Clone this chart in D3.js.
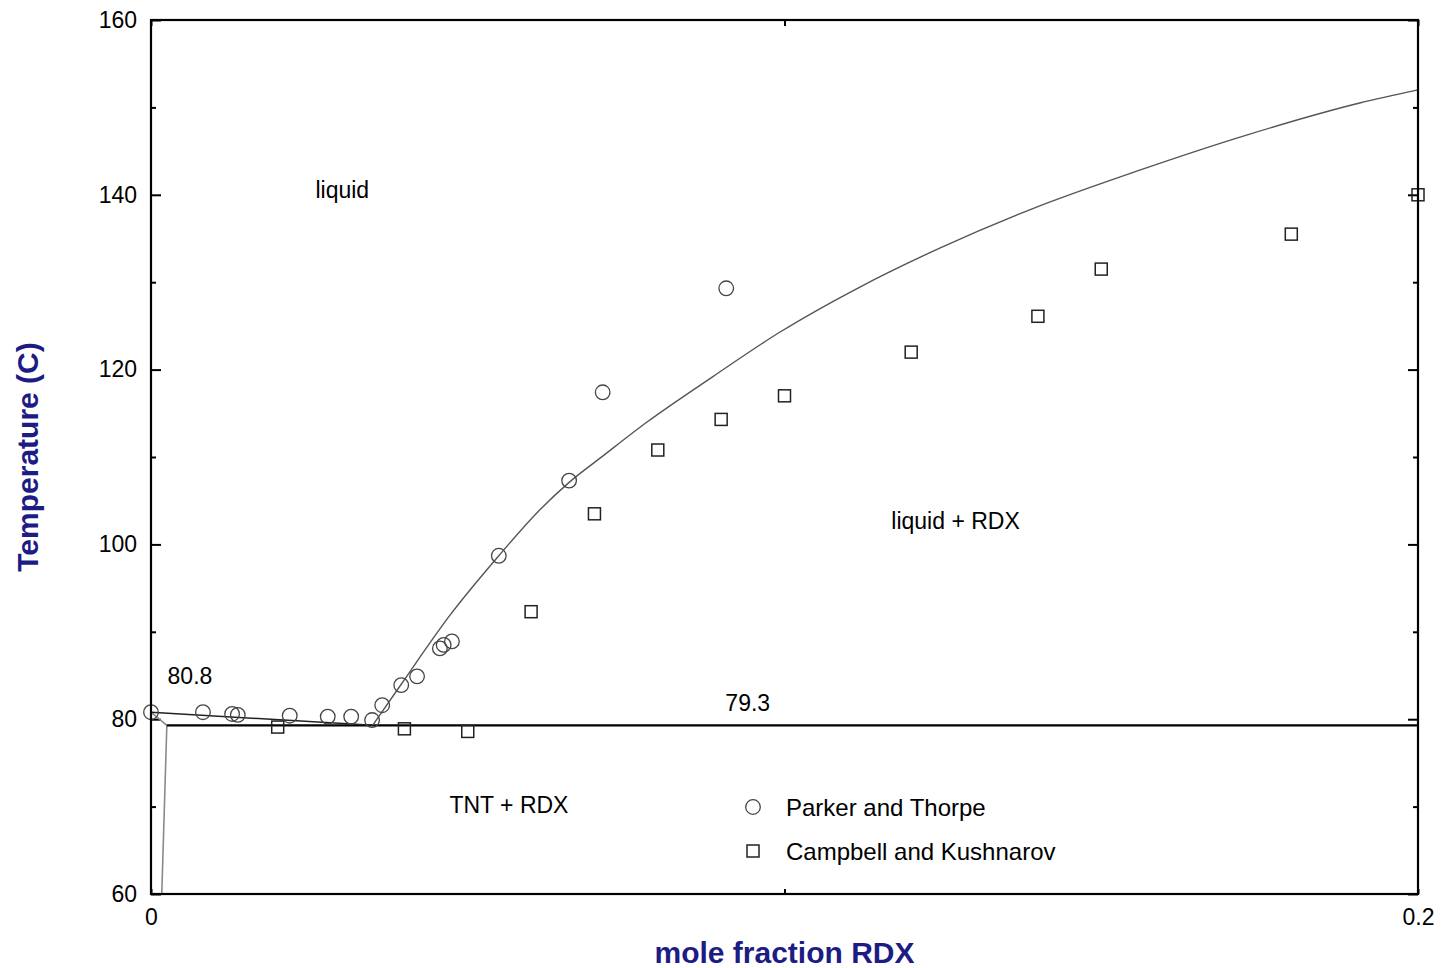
<!DOCTYPE html>
<html>
<head>
<meta charset="utf-8">
<script src="https://cdn.jsdelivr.net/npm/d3@7"></script>
<style>
  html, body { margin: 0; padding: 0; background: #fff; }
  svg { display: block; }
  text { font-family: "Liberation Sans", Arial, sans-serif; }
</style>
</head>
<body>
<svg id="chart" width="1445" height="968"></svg>
<script>
// ---- data ----
const parkerX = [0, 0.0082, 0.0128, 0.0137, 0.0219, 0.0279, 0.0316, 0.0349, 0.0365, 0.0395, 0.042, 0.0456, 0.0462, 0.0475, 0.0549, 0.066, 0.0713, 0.0908];
const parkerT = [80.8, 80.8, 80.6, 80.5, 80.4, 80.3, 80.3, 79.9, 81.6, 83.9, 84.9, 88.1, 88.5, 88.9, 98.7, 107.3, 117.4, 129.3];

const campbellX = [0.02, 0.04, 0.05, 0.06, 0.07, 0.08, 0.09, 0.1, 0.12, 0.14, 0.15, 0.18, 0.2];
const campbellT = [79.1, 78.9, 78.6, 92.3, 103.5, 110.8, 114.3, 117.0, 122.0, 126.1, 131.5, 135.5, 140.0];

const liquidusX = [0.035, 0.0395, 0.0472, 0.0549, 0.0609, 0.066, 0.0713, 0.0783, 0.0887, 0.0993, 0.1119, 0.1245, 0.1391, 0.1556, 0.1728, 0.1908, 0.2];
const liquidusT = [79.3, 84.0, 91.9, 98.7, 103.6, 107.1, 110.1, 114.0, 119.2, 124.3, 129.45, 133.9, 138.4, 142.7, 146.8, 150.5, 152.0];

const tntLiquidusX = [0, 0.035];
const tntLiquidusT = [80.8, 79.3];

const solidusX = [0, 0.0025, 0.0017];
const solidusT = [80.8, 79.3, 60];

const eutecticX = [0.0025, 0.2];
const eutecticT = [79.3, 79.3];

const yMajorTicks = [60, 80, 100, 120, 140, 160];
const yMinorTicks = [70, 90, 110, 130, 150];
const xTicks = [0, 0.1, 0.2];
const xTickLabels = ["0", "", "0.2"];

const seriesNames = ["Parker and Thorpe", "Campbell and Kushnarov"];
const regionLabels = ["liquid", "liquid + RDX", "TNT + RDX", "80.8", "79.3"];

// ---- layout ----
const L = 151, R = 1418, T = 20, B = 894;
const svg = d3.select("#chart");
const x = d3.scaleLinear().domain([0, 0.2]).range([L, R]);
const y = d3.scaleLinear().domain([60, 160]).range([B, T]);

// axes
const tickFont = g => g.selectAll("text").attr("font-size", 23).attr("fill", "#000")
  .attr("font-family", '"Liberation Sans", Arial, sans-serif');
const clean = g => { g.select(".domain").remove(); g.selectAll("line").attr("stroke", "#000").attr("stroke-width", 2); };

svg.append("g").attr("transform", `translate(${L},0)`)
  .call(d3.axisLeft(y).tickValues(yMajorTicks).tickSize(-10).tickPadding(14).tickFormat(d3.format("d")))
  .call(clean).call(tickFont);
svg.append("g").attr("transform", `translate(${L},0)`)
  .call(d3.axisLeft(y).tickValues(yMinorTicks).tickSize(-5).tickFormat(""))
  .call(clean);
svg.append("g").attr("transform", `translate(${R},0)`)
  .call(d3.axisRight(y).tickValues(yMajorTicks).tickSize(-10).tickFormat(""))
  .call(clean);
svg.append("g").attr("transform", `translate(${R},0)`)
  .call(d3.axisRight(y).tickValues(yMinorTicks).tickSize(-5).tickFormat(""))
  .call(clean);
svg.append("g").attr("transform", `translate(0,${B})`)
  .call(d3.axisBottom(x).tickValues(xTicks).tickSize(-5).tickPadding(15).tickFormat((d, i) => xTickLabels[i]))
  .call(clean).call(tickFont);
svg.append("g").attr("transform", `translate(0,${T})`)
  .call(d3.axisTop(x).tickValues(xTicks).tickSize(-6).tickFormat(""))
  .call(clean);

// lines
const line = d3.line().x(d => x(d[0])).y(d => y(d[1]));
const smooth = d3.line().x(d => x(d[0])).y(d => y(d[1])).curve(d3.curveMonotoneX);
const zip = (a, b) => a.map((v, i) => [v, b[i]]);

svg.append("path").datum(zip(solidusX, solidusT)).attr("d", line)
  .attr("fill", "none").attr("stroke", "#8a8a8a").attr("stroke-width", 1.6);
svg.append("path").datum(zip(eutecticX, eutecticT)).attr("d", line)
  .attr("fill", "none").attr("stroke", "#000").attr("stroke-width", 2.2);
svg.append("path").datum(zip(tntLiquidusX, tntLiquidusT)).attr("d", line)
  .attr("fill", "none").attr("stroke", "#222").attr("stroke-width", 1.5);
svg.append("path").datum(zip(liquidusX, liquidusT)).attr("d", smooth)
  .attr("fill", "none").attr("stroke", "#555").attr("stroke-width", 1.4);

// markers
svg.append("g").selectAll("circle").data(zip(parkerX, parkerT)).join("circle")
  .attr("cx", d => x(d[0])).attr("cy", d => y(d[1])).attr("r", 7.3)
  .attr("fill", "none").attr("stroke", "#444").attr("stroke-width", 1.3);
const sq = 12;
svg.append("g").selectAll("rect").data(zip(campbellX, campbellT)).join("rect")
  .attr("x", d => x(d[0]) - sq / 2).attr("y", d => y(d[1]) - sq / 2)
  .attr("width", sq).attr("height", sq)
  .attr("fill", "none").attr("stroke", "#222").attr("stroke-width", 1.5);

// frame
svg.append("rect").attr("x", L).attr("y", T).attr("width", R - L).attr("height", B - T)
  .attr("fill", "none").attr("stroke", "#000").attr("stroke-width", 2.2);

// region labels
const labelPos = [[0.0302, 140.5], [0.127, 102.7], [0.0565, 70.2], [0.00615, 84.9], [0.0942, 81.85]];
svg.append("g").selectAll("text").data(regionLabels).join("text")
  .attr("x", (d, i) => x(labelPos[i][0])).attr("y", (d, i) => y(labelPos[i][1]))
  .attr("text-anchor", "middle").attr("dominant-baseline", "central")
  .attr("font-size", 23).attr("fill", "#000").text(d => d);

// legend
const lgX = 753, lgY = [807, 851];
svg.append("circle").attr("cx", lgX).attr("cy", lgY[0]).attr("r", 7.3)
  .attr("fill", "none").attr("stroke", "#444").attr("stroke-width", 1.3);
svg.append("rect").attr("x", lgX - sq / 2).attr("y", lgY[1] - sq / 2).attr("width", sq).attr("height", sq)
  .attr("fill", "none").attr("stroke", "#222").attr("stroke-width", 1.5);
seriesNames.forEach((s, i) => {
  svg.append("text").attr("x", 786).attr("y", lgY[i]).attr("dominant-baseline", "central")
    .attr("font-size", 24).attr("fill", "#000").text(s);
});

// axis titles
svg.append("text").attr("x", (L + R) / 2).attr("y", 952).attr("text-anchor", "middle")
  .attr("dominant-baseline", "central").attr("font-size", 30).attr("font-weight", "bold")
  .attr("fill", "#1c1c84").text("mole fraction RDX");
svg.append("text").attr("transform", `translate(27,${(T + B) / 2}) rotate(-90)`)
  .attr("text-anchor", "middle").attr("dominant-baseline", "central")
  .attr("font-size", 30).attr("font-weight", "bold").attr("fill", "#1c1c84").text("Temperature (C)");
</script>
</body>
</html>
